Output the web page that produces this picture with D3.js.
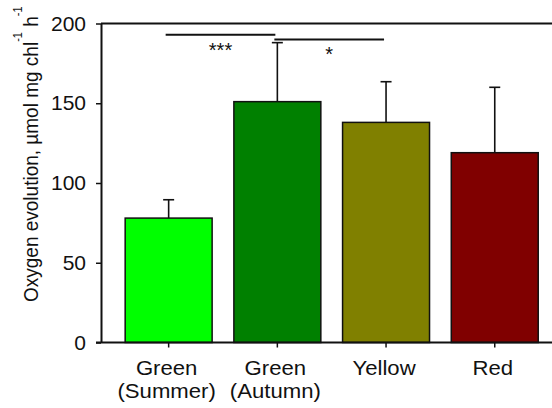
<!DOCTYPE html>
<html>
<head>
<meta charset="utf-8">
<script src="https://cdn.jsdelivr.net/npm/d3@7"></script>
<style>
  body { margin: 0; background: #fff; }
  svg { display: block; font-family: "Liberation Sans", Arial, sans-serif; }
</style>
</head>
<body>
<div id="chart"></div>
<script>
// Oxygen evolution per leaf colour group
const categories = ["Green (Summer)", "Green (Autumn)", "Yellow", "Red"]
const categoryLines = [["Green", "(Summer)"], ["Green", "(Autumn)"], ["Yellow"], ["Red"]]
const means = [78, 151, 138, 119]
const errors = [11.5, 37, 25.5, 41]
const barColors = ["#00ff00", "#008000", "#808000", "#800000"]
const yTicks = [0, 50, 100, 150, 200]

// significance brackets: pair of category indices, height, label
const sigPairs = [[0, 1], [1, 2]]
const sigLevels = [193, 190]
const sigLabels = ["***", "*"]

const width = 552
const height = 408

const svg = d3.select("#chart")
  .append("svg")
  .attr("width", width)
  .attr("height", height)

const axisLeftX = 101
const plotRight = 560

const y = d3.scaleLinear()
  .domain([0, 200])
  .range([342.5, 23.5])

const x = d3.scaleBand()
  .domain(categories)
  .range([114.3, 549.1])
  .paddingInner(0.2)
  .paddingOuter(0.1)

const cx = i => x(categories[i]) + x.bandwidth() / 2

// Frame lines: top and bottom run off to the right edge
svg.append("line")
  .attr("x1", axisLeftX).attr("x2", plotRight)
  .attr("y1", y(200)).attr("y2", y(200))
  .attr("stroke", "#111").attr("stroke-width", 2)

// Error bars (upper only)
const err = svg.append("g")
  .attr("stroke", "#111")
  .attr("stroke-width", 1.6)

err.selectAll("line.stem")
  .data(means)
  .join("line")
  .attr("class", "stem")
  .attr("x1", (d, i) => cx(i)).attr("x2", (d, i) => cx(i))
  .attr("y1", d => y(d)).attr("y2", (d, i) => y(d + errors[i]))

err.selectAll("line.cap")
  .data(means)
  .join("line")
  .attr("class", "cap")
  .attr("x1", (d, i) => cx(i) - 5.5).attr("x2", (d, i) => cx(i) + 5.5)
  .attr("y1", (d, i) => y(d + errors[i])).attr("y2", (d, i) => y(d + errors[i]))

// Bars
svg.selectAll("rect.bar")
  .data(means)
  .join("rect")
  .attr("class", "bar")
  .attr("x", (d, i) => x(categories[i]))
  .attr("y", d => y(d))
  .attr("width", x.bandwidth())
  .attr("height", d => y(0) - y(d))
  .attr("fill", (d, i) => barColors[i])
  .attr("stroke", "#111")
  .attr("stroke-width", 1.5)

// Y axis
const yAxis = svg.append("g")
  .attr("transform", `translate(${axisLeftX},0)`)
  .call(d3.axisLeft(y).tickValues(yTicks).tickSize(5).tickSizeOuter(0).tickPadding(10))

yAxis.select(".domain").attr("stroke", "#111").attr("stroke-width", 2)
yAxis.selectAll(".tick line").attr("stroke", "#111").attr("stroke-width", 1.5)
yAxis.selectAll(".tick text")
  .attr("font-size", 21)
  .attr("fill", "#111")
  .attr("font-family", "Liberation Sans, Arial, sans-serif")

// X axis
const xAxis = svg.append("g")
  .attr("transform", `translate(0,${y(0)})`)
  .call(d3.axisBottom(x).tickSize(5).tickSizeOuter(0).tickFormat(""))

xAxis.select(".domain").remove()
xAxis.selectAll(".tick line").attr("stroke", "#111").attr("stroke-width", 1.5)

svg.append("line")
  .attr("x1", axisLeftX - 5).attr("x2", plotRight)
  .attr("y1", y(0)).attr("y2", y(0))
  .attr("stroke", "#111").attr("stroke-width", 2)

// Category labels (two lines where needed), slightly wide like the source
const labels = svg.append("g")
  .attr("font-size", 20.5)
  .attr("fill", "#111")
  .attr("text-anchor", "middle")

categoryLines.forEach((lines, i) => {
  const t = labels.append("g")
    .attr("transform", `translate(${cx(i) - 2},375) scale(1.08,1)`)
    .append("text")
  lines.forEach((line, j) => {
    t.append("tspan")
      .attr("x", 0)
      .attr("y", j * 23)
      .text(line)
  })
})

// Significance lines
const sig = svg.append("g")
sigPairs.forEach((pair, k) => {
  const x1 = cx(pair[0]) - 3
  const x2 = cx(pair[1]) - 2
  sig.append("line")
    .attr("x1", x1).attr("x2", x2)
    .attr("y1", y(sigLevels[k])).attr("y2", y(sigLevels[k]))
    .attr("stroke", "#111").attr("stroke-width", 2)
  sig.append("text")
    .attr("x", (x1 + x2) / 2)
    .attr("y", y(sigLevels[k]) + 22)
    .attr("text-anchor", "middle")
    .attr("font-size", 20)
    .attr("fill", "#111")
    .text(sigLabels[k])
})

// Y axis title with superscripts
const title = svg.append("text")
  .attr("transform", "translate(38,302) rotate(-90) scale(1,1.1)")
  .attr("font-size", 19)
  .attr("fill", "#111")

title.append("tspan").text("Oxygen evolution, \u00b5mol mg chl")
title.append("tspan").attr("font-size", 11).attr("dy", -15).text("-1")
title.append("tspan").attr("dy", 15).text(" h")
title.append("tspan").attr("font-size", 11).attr("dy", -15).text("-1")
</script>
</body>
</html>
